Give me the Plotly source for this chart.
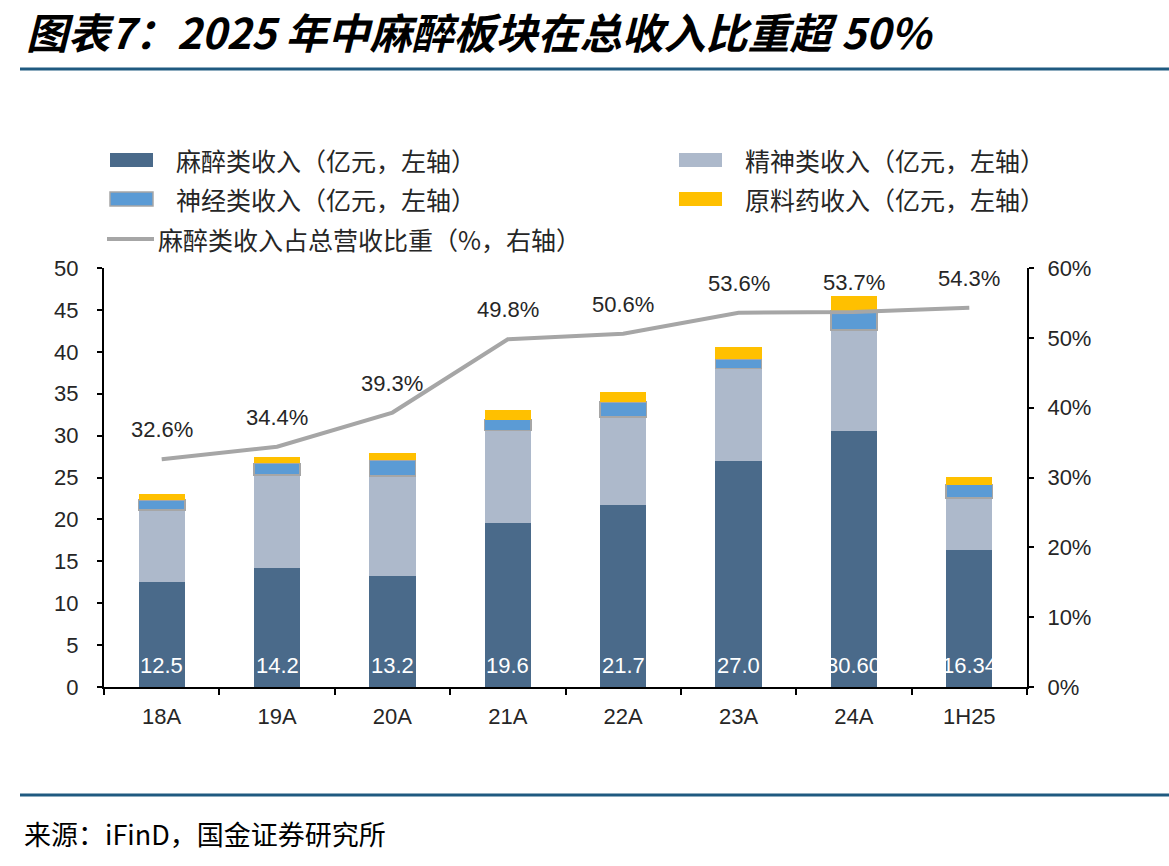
import plotly.graph_objects as go

categories = ["18A", "19A", "20A", "21A", "22A", "23A", "24A", "1H25"]
anesthesia = [12.5, 14.2, 13.2, 19.6, 21.7, 27.0, 30.60, 16.34]
anesthesia_labels = ["12.5", "14.2", "13.2", "19.6", "21.7", "27.0", "30.60", "16.34"]
psychiatric = [8.6, 11.1, 12.0, 11.0, 10.5, 11.0, 12.0, 6.2]
neuro = [1.2, 1.4, 1.9, 1.3, 1.8, 1.1, 2.3, 1.6]
api = [0.7, 0.8, 0.8, 1.1, 1.2, 1.5, 1.8, 0.9]
share_pct = [32.6, 34.4, 39.3, 49.8, 50.6, 53.6, 53.7, 54.3]
share_labels = ["32.6%", "34.4%", "39.3%", "49.8%", "50.6%", "53.6%", "53.7%", "54.3%"]

series_names = ["麻醉类收入（亿元，左轴）", "精神类收入（亿元，左轴）",
                "神经类收入（亿元，左轴）", "原料药收入（亿元，左轴）",
                "麻醉类收入占总营收比重（%，右轴）"]
series_colors = ["#4A6A8A", "#ADB9CB", "#5B9BD5", "#FFC000", "#A6A6A6"]

CJK = "Noto Sans CJK SC"
LAT = "Liberation Sans, Arial"
FS = 22

# plot area in pixels
L, R, T, B = 104, 142, 268, 179
W, H = 1169, 866
pw = W - L - R
ph = H - T - B


def px_x(x):
    return (x - L) / pw


def px_y(y):
    return (H - B - y) / ph


fig = go.Figure()
bar_values = [anesthesia, psychiatric, neuro, api]
for i, vals in enumerate(bar_values):
    line = dict(width=1.5, color="#A6A6A6") if i == 2 else dict(width=0)
    fig.add_trace(go.Bar(x=categories, y=vals, name=series_names[i],
                         marker=dict(color=series_colors[i], line=line)))
fig.add_trace(go.Scatter(x=categories, y=share_pct, name=series_names[4],
                         mode="lines", line=dict(color=series_colors[4], width=4), yaxis="y2"))

annotations = []
for c, v, t in zip(categories, share_pct, share_labels):
    annotations.append(dict(x=c, y=v, xref="x", yref="y2", text=t, showarrow=False,
                            yanchor="bottom", yshift=15,
                            font=dict(family=LAT, size=FS, color="#262626")))
for c, t in zip(categories, anesthesia_labels):
    annotations.append(dict(x=c, y=0, xref="x", yref="y", text=t, showarrow=False,
                            yanchor="bottom", yshift=7,
                            font=dict(family=LAT, size=FS, color="white")))

# title and source
annotations.append(dict(xref="paper", yref="paper", x=px_x(24), y=px_y(30),
                        xanchor="left", yanchor="middle", showarrow=False,
                        text="<b><i>图表7：2025 年中麻醉板块在总收入比重超 50%</i></b>",
                        font=dict(family=CJK, size=42, color="black")))
annotations.append(dict(xref="paper", yref="paper", x=px_x(22), y=px_y(833),
                        xanchor="left", yanchor="middle", showarrow=False,
                        text="来源：iFinD，国金证券研究所",
                        font=dict(family=CJK, size=27, color="black")))

shapes = [
    dict(type="line", xref="paper", yref="paper", x0=px_x(20), x1=px_x(1169),
         y0=px_y(69), y1=px_y(69), line=dict(color="#1F5A80", width=3)),
    dict(type="line", xref="paper", yref="paper", x0=px_x(20), x1=px_x(1169),
         y0=px_y(795), y1=px_y(795), line=dict(color="#1F5A80", width=3)),
]

# legend (two columns + line entry)
legend_pos = [(110, 160), (679, 160), (110, 199), (679, 199)]
for i, (lx, ly) in enumerate(legend_pos):
    shapes.append(dict(type="rect", xref="paper", yref="paper",
                       x0=px_x(lx), x1=px_x(lx + 43), y0=px_y(ly - 7), y1=px_y(ly + 7),
                       fillcolor=series_colors[i],
                       line=dict(width=1.5 if i == 2 else 0, color="#A6A6A6")))
    annotations.append(dict(xref="paper", yref="paper", x=px_x(lx + 64), y=px_y(ly),
                            xanchor="left", yanchor="middle", showarrow=False,
                            text=series_names[i],
                            font=dict(family=CJK, size=25, color="#262626")))
shapes.append(dict(type="line", xref="paper", yref="paper", x0=px_x(107), x1=px_x(154),
                   y0=px_y(239), y1=px_y(239), line=dict(color=series_colors[4], width=4)))
annotations.append(dict(xref="paper", yref="paper", x=px_x(156), y=px_y(239),
                        xanchor="left", yanchor="middle", showarrow=False,
                        text=series_names[4],
                        font=dict(family=CJK, size=25, color="#262626")))

fig.update_layout(
    width=W, height=H,
    margin=dict(l=L, r=R, t=T, b=B),
    barmode="stack", bargap=0.6,
    plot_bgcolor="white", paper_bgcolor="white",
    showlegend=False,
    xaxis=dict(type="category", showline=True, linecolor="black", linewidth=2,
               ticks="outside", ticklen=6, tickwidth=2, tickcolor="black",
               tickson="boundaries", showgrid=False, ticklabelstandoff=9,
               tickfont=dict(family=LAT, size=FS, color="#262626")),
    yaxis=dict(range=[0, 50], dtick=5, showline=True, linecolor="black", linewidth=2,
               ticks="outside", ticklen=5, tickwidth=2, tickcolor="black", showgrid=False,
               zeroline=False, ticklabelstandoff=14,
               tickfont=dict(family=LAT, size=FS, color="#262626")),
    yaxis2=dict(range=[0, 60], dtick=10, ticksuffix="%", overlaying="y", side="right",
                showline=True, linecolor="black", linewidth=2,
                ticks="outside", ticklen=5, tickwidth=2, tickcolor="black", showgrid=False,
                zeroline=False, ticklabelstandoff=9,
                tickfont=dict(family=LAT, size=FS, color="#262626")),
    annotations=annotations,
    shapes=shapes,
)

fig.write_html("out.html")
